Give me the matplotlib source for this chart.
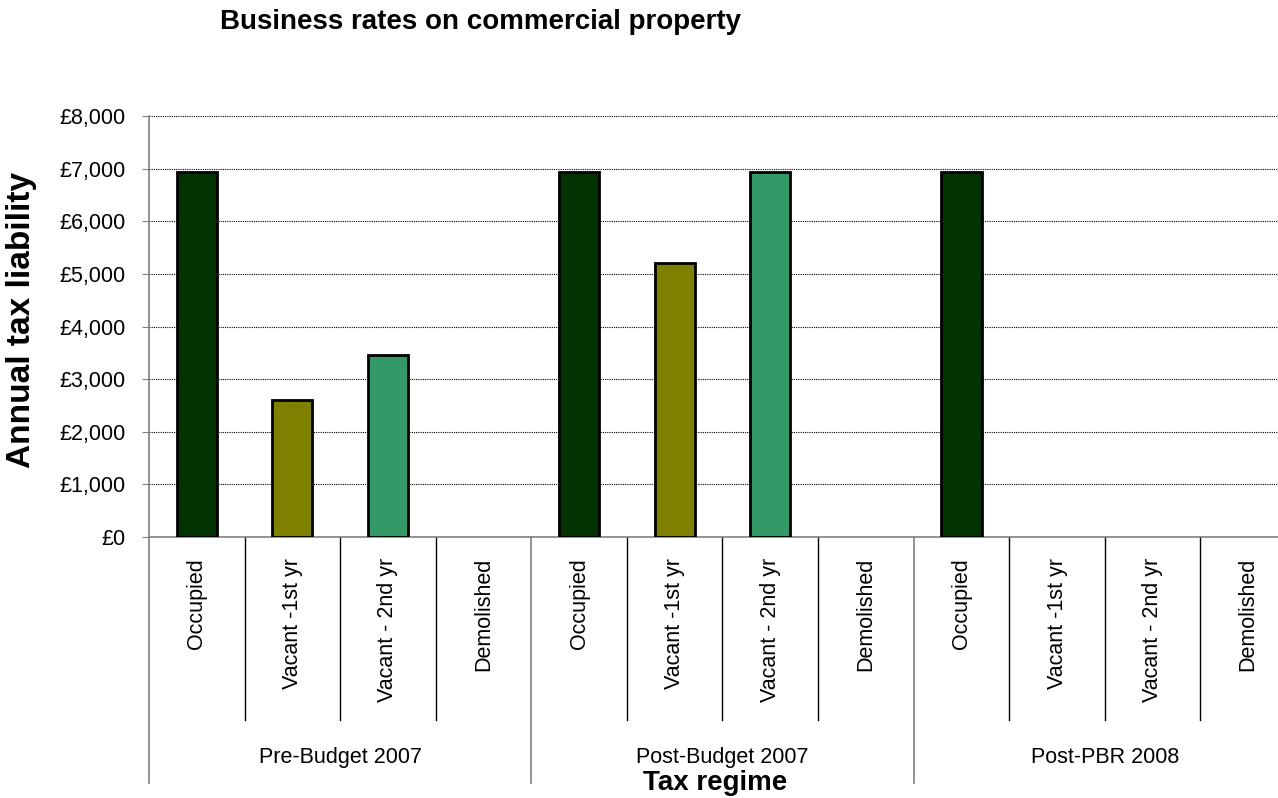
import matplotlib.pyplot as plt

plt.rcParams['font.family'] = ['Liberation Sans', 'DejaVu Sans']

# data
regimes = ['Pre-Budget 2007', 'Post-Budget 2007', 'Post-PBR 2008']
statuses = ['Occupied', 'Vacant -1st yr', 'Vacant - 2nd yr', 'Demolished']
liability = [
    [6930, 2600, 3465, 0],
    [6930, 5200, 6930, 0],
    [6930, 0, 0, 0],
]
status_colors = ['#003300', '#808000', '#339966', '#ffffff']

fig = plt.figure(figsize=(12.78, 7.98), dpi=100)
W, H = 1278, 798
left, right, top, bottom = 149, 1296, 116, 537
ax = fig.add_axes([left / W, 1 - bottom / H, (right - left) / W, (bottom - top) / H])

n = len(statuses)
for g, vals in enumerate(liability):
    for i, v in enumerate(vals):
        if v > 0:
            ax.bar(g * n + i, v, width=0.42, color=status_colors[i],
                   edgecolor='black', linewidth=2, zorder=3)

ax.set_xlim(-0.5, len(regimes) * n - 0.5)
ax.set_ylim(0, 8000)
ax.set_yticks(range(0, 8001, 1000))
ax.set_yticklabels(['£{:,}'.format(v) for v in range(0, 8001, 1000)], fontsize=15.5)
ax.yaxis.grid(True, linestyle=(0, (1, 1)), color='black', linewidth=0.8, zorder=0)
ax.tick_params(axis='y', length=5, color='#808080', pad=12)
ax.set_xticks([])
for s in ['top', 'right']:
    ax.spines[s].set_visible(False)
ax.spines['left'].set_color('#808080')
ax.spines['bottom'].set_color('#808080')
ax.spines['left'].set_linewidth(1.2)
ax.spines['bottom'].set_linewidth(1.2)

trans = ax.get_xaxis_transform()
axh = bottom - top
inner_low = -(720 - bottom) / axh
outer_low = -(783 - bottom) / axh
for k in range(len(regimes) * n + 1):
    x = k - 0.5
    if k % n == 0:
        ax.plot([x, x], [0, outer_low], transform=trans, color='#808080',
                linewidth=1.2, clip_on=False)
    else:
        ax.plot([x, x], [0, inner_low], transform=trans, color='black',
                linewidth=1, clip_on=False)

for g, reg in enumerate(regimes):
    for i, st in enumerate(statuses):
        ax.text(g * n + i, -(558 - bottom) / axh, st, transform=trans,
                rotation=90, ha='center', va='top', fontsize=15.5)
    ax.text(g * n + (n - 1) / 2, -(757 - bottom) / axh, reg, transform=trans,
            ha='center', va='center', fontsize=15.5)

fig.text(481 / W, 1 - 22 / H, 'Business rates on commercial property',
         ha='center', va='center', fontsize=20, fontweight='bold')
fig.text(715 / W, 1 - 783 / H, 'Tax regime', ha='center', va='center',
         fontsize=20, fontweight='bold')
fig.text(22 / W, 1 - 320 / H, 'Annual tax liability', ha='center', va='center',
         rotation=90, fontsize=24, fontweight='bold')

fig.savefig('out.png', dpi=100)
